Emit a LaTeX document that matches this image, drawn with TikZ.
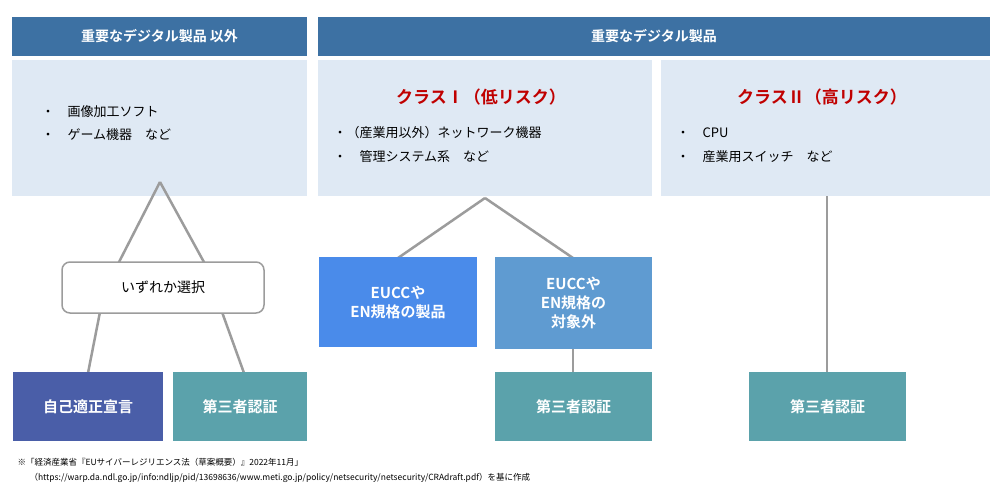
\documentclass[tikz,border=0pt]{standalone}
\usepackage{fontspec}
\setmainfont{Noto Sans CJK JP}
\newfontfamily\jpb{Noto Sans CJK JP Bold}
\begin{document}
\begin{tikzpicture}[x=1pt,y=-1pt,
  hdr/.style={fill=hdrc,text=white,font=\jpb\fontsize{14}{16}\selectfont},
  lite/.style={fill=litec},
  wbox/.style={text=white,font=\jpb\fontsize{15}{19}\selectfont,align=center},
  conn/.style={draw=linec,line width=2.5pt},
  bul/.style={anchor=west,font=\fontsize{13}{15}\selectfont},
  red/.style={text=redc,font=\jpb\fontsize{17}{19}\selectfont}]
\definecolor{hdrc}{HTML}{3D71A3}
\definecolor{litec}{HTML}{DFE9F4}
\definecolor{linec}{HTML}{9C9C9C}
\definecolor{redc}{HTML}{C00000}
\definecolor{indc}{HTML}{4A5EA8}
\definecolor{tealc}{HTML}{5BA2AB}
\definecolor{bluec}{HTML}{4A8BEA}
\definecolor{bluec2}{HTML}{5F9BD1}
\useasboundingbox (0,0) rectangle (1000,496);
\fill[white] (0,0) rectangle (1000,496);
% headers
\fill[hdrc] (12,17) rectangle (307,56);
\fill[hdrc] (318,17) rectangle (990,56);
\node[hdr] (h1) at (159.5,36.5) {重要なデジタル製品 以外};
\node[hdr] (h2) at (654,36.5) {重要なデジタル製品};
% light boxes
\fill[litec] (12,60) rectangle (307,196);
\fill[litec] (318,60) rectangle (652,196);
\fill[litec] (661,60) rectangle (990,196);
\node[bul] (l1) at (38,112) {・\quad 画像加工ソフト};
\node[bul] (l2) at (38,135) {・\quad ゲーム機器\quad など};
\node[red] (t1) at (481,97) {クラスⅠ（低リスク）};
\node[bul] (m1) at (330,133) {・（産業用以外）ネットワーク機器};
\node[bul] (m2) at (330,157) {・\quad 管理システム系\quad など};
\node[red] (t2) at (822,97) {クラスⅡ（高リスク）};
\node[bul] (r1) at (673,133) {・\quad CPU};
\node[bul] (r2) at (673,157) {・\quad 産業用スイッチ\quad など};
% coordinates
\coordinate (a1) at (160,182);
\coordinate (a2) at (485,198);
\coordinate (a3) at (827,196);
% connectors (behind boxes)
\draw[conn] (a1) -- (118,264);
\draw[conn] (a1) -- (205,264);
\draw[conn] (100,312) -- (88,373);
\draw[conn] (222,312) -- (244,373);
\draw[conn] (a2) -- (398,258);
\draw[conn] (a2) -- (573,258);
\draw[conn] (573,348) -- (573,373);
\draw[conn] (a3) -- (827,373);
% select box
\node[draw=linec,line width=1.5pt,fill=white,rounded corners=8pt,minimum width=202pt,minimum height=51pt,font=\fontsize{14}{16}\selectfont] (sel) at (163,287.5) {いずれか選択};
% colored boxes
\node[wbox,fill=indc,minimum width=150pt,minimum height=69pt] (b1) at (88,406.5) {自己適正宣言};
\node[wbox,fill=tealc,minimum width=134pt,minimum height=69pt] (b2) at (240,406.5) {第三者認証};
\node[wbox,fill=bluec,minimum width=158pt,minimum height=90pt] (e1) at (398,302) {EUCCや\\EN規格の製品};
\node[wbox,fill=bluec2,minimum width=157pt,minimum height=92pt] (e2) at (573.5,303) {EUCCや\\EN規格の\\対象外};
\node[wbox,fill=tealc,minimum width=157pt,minimum height=69pt] (b3) at (573.5,406.5) {第三者認証};
\node[wbox,fill=tealc,minimum width=157pt,minimum height=69pt] (b4) at (827.5,406.5) {第三者認証};
% footnote
\node[anchor=west,font=\fontsize{8.5}{10}\selectfont] (f1) at (14,462) {※「経済産業省『EUサイバーレジリエンス法（草案概要）』2022年11月」};
\node[anchor=west,font=\fontsize{8.5}{10}\selectfont] (f2) at (26,478) {（https://warp.da.ndl.go.jp/info:ndljp/pid/13698636/www.meti.go.jp/policy/netsecurity/netsecurity/CRAdraft.pdf）を基に作成};
\end{tikzpicture}
\end{document}
